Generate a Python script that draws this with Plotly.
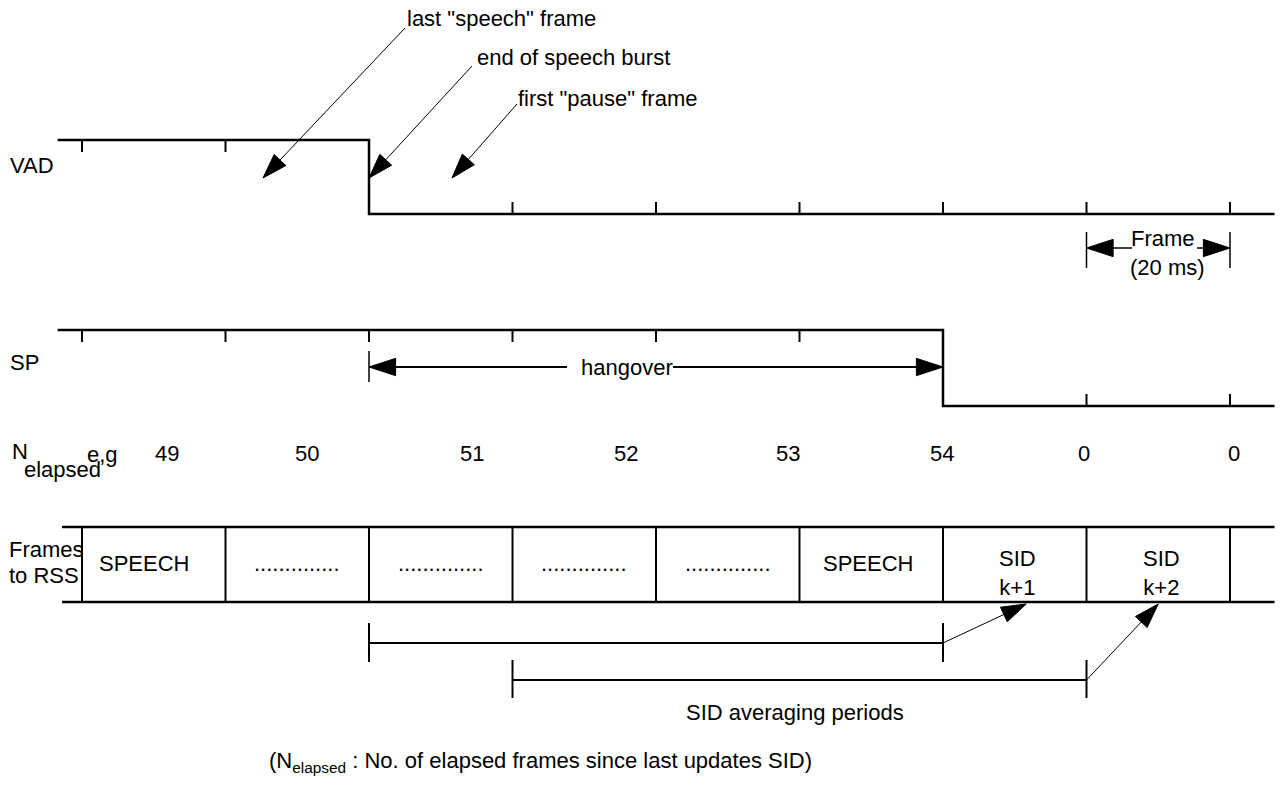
import plotly.graph_objects as go

# ---------------- data ----------------
frame_edges = [0, 1, 2, 3, 4, 5, 6, 7, 8]
vad_level = [1, 1, 0, 0, 0, 0, 0, 0, 0]
sp_level = [1, 1, 1, 1, 1, 1, 0, 0, 0]
n_elapsed = ["49", "50", "51", "52", "53", "54", "0", "0"]
n_elapsed_at = [0.59, 1.57, 2.72, 3.79, 4.92, 5.99, 6.98, 8.03]
rss_frames = ["SPEECH", "..............", "..............", "..............",
              "..............", "SPEECH", "SID<br>k+1", "SID<br>k+2"]
rss_at = [0.43, 1.5, 2.5, 3.5, 4.5, 5.48, 6.52, 7.52]
sid_periods = [(2, 6), (3, 7)]
sid_targets = [6.58, 7.5]

# ---------------- layout helpers ----------------
FONT = "Liberation Sans, Arial, Helvetica, sans-serif"
FS = 22
W, H = 1282, 799
X0, DX = 82.0, 143.5
XR = [-X0 / DX, (W - X0) / DX]
LINE_START, LINE_END = -0.17, 8.31

fig = go.Figure()


def seg_trace(xs, ys, width=2.2):
    fig.add_trace(go.Scatter(x=xs, y=ys, mode="lines", hoverinfo="skip",
                             line=dict(color="black", width=width),
                             showlegend=False))


def arrow(x0, y0, x1, y1, width=1, size=26):
    fig.add_trace(go.Scatter(
        x=[x0, x1], y=[y0, y1], mode="lines+markers", hoverinfo="skip",
        line=dict(color="black", width=width), showlegend=False,
        marker=dict(symbol="arrow", size=[0, size], color="black", opacity=1,
                    angleref="previous", line=dict(width=1, color="black"))))


def signal(levels, y_hi, y_lo, tick=12):
    ys = lambda v: y_hi if v else y_lo
    xs, yy = [LINE_START], [ys(levels[0])]
    for i in range(1, len(levels)):
        if levels[i] != levels[i - 1]:
            xs += [frame_edges[i], frame_edges[i]]
            yy += [ys(levels[i - 1]), ys(levels[i])]
    xs.append(LINE_END)
    yy.append(ys(levels[-1]))
    seg_trace(xs, yy, 2.5)
    tx, ty = [], []
    for i, e in enumerate(frame_edges):
        if i > 0 and levels[i] != levels[i - 1]:
            continue
        y = ys(levels[i])
        tx += [e, e, None]
        ty += [y, y + tick if levels[i] else y - tick, None]
    seg_trace(tx, ty, 2)


def text(x, y, s, xref="x", xanchor="center", size=FS):
    fig.add_annotation(x=x, y=y, xref=xref, yref="y", text=s, showarrow=False,
                       xanchor=xanchor, yanchor="middle",
                       font=dict(family=FONT, size=size, color="black"))


def px(p):
    return p / W

# ---------------- VAD ----------------
signal(vad_level, 140, 214)
text(px(8), 165, "VAD", "paper", "left")
text(px(405), 18, 'last "speech" frame', "paper", "left")
text(px(475), 57, "end of speech burst", "paper", "left")
text(px(516), 98, 'first "pause" frame', "paper", "left")
arrow((405 - X0) / DX, 28, (263 - X0) / DX, 178)
arrow((472 - X0) / DX, 66, 2.0, 178)
arrow((517 - X0) / DX, 104, (452 - X0) / DX, 178)

# Frame (20 ms)
seg_trace([7, 7, None, 8, 8], [232, 268, None, 232, 268], 1.5)
arrow((1132 - X0) / DX, 248, 7, 248, 1.5, 28)
arrow((1197 - X0) / DX, 248, 8, 248, 1.5, 28)
text(px(1163), 238, "Frame", "paper")
text(px(1167), 267, "(20 ms)", "paper")

# ---------------- SP ----------------
signal(sp_level, 330, 406)
text(px(8), 362, "SP", "paper", "left")
seg_trace([2, 2], [351, 382], 1.5)
arrow((567 - X0) / DX, 367, 2, 367, 2, 28)
arrow((673 - X0) / DX, 367, 6, 367, 2, 28)
text(px(627), 367, "hangover", "paper")

# ---------------- N elapsed ----------------
text(px(10), 451, "N", "paper", "left")
text(px(22), 469, "elapsed", "paper", "left")
text(px(85), 454, "e,g", "paper", "left")
for lab, pos in zip(n_elapsed, n_elapsed_at):
    text(pos, 453, lab)

# ---------------- Frames to RSS ----------------
seg_trace([-0.139, LINE_END, None, -0.139, LINE_END], [527, 527, None, 602, 602], 2.5)
dx, dy = [], []
for e in frame_edges:
    dx += [e, e, None]
    dy += [527, 602, None]
seg_trace(dx, dy, 2)
text(px(7), 549, "Frames", "paper", "left")
text(px(7), 575, "to RSS", "paper", "left")
for lab, pos in zip(rss_frames, rss_at):
    text(pos, 563 if "<br>" not in lab else 573, lab)

# ---------------- SID averaging periods ----------------
for (a, b), tgt, yl, (yb0, yb1) in zip(sid_periods, sid_targets, [643, 680],
                                     [(623, 662), (660, 698)]):
    seg_trace([a, a, None, a, b, None, b, b], [yb0, yb1, None, yl, yl, None, yb0, yb1], 2)
    arrow(b, yl, tgt, 604, 1, 26)
text(px(795), 712, "SID averaging periods", "paper")
text(px(267), 762, "(N<sub>elapsed</sub> : No. of elapsed frames since last updates SID)",
     "paper", "left")

fig.update_layout(
    width=W, height=H, margin=dict(l=0, r=0, t=0, b=0),
    paper_bgcolor="white", plot_bgcolor="white", showlegend=False,
    xaxis=dict(range=XR, visible=False, fixedrange=True),
    yaxis=dict(range=[H, 0], visible=False, fixedrange=True),
)

fig.write_html("out.html", config={"displayModeBar": False},
               post_script="document.body.style.margin='0';document.body.style.overflow='hidden';")
